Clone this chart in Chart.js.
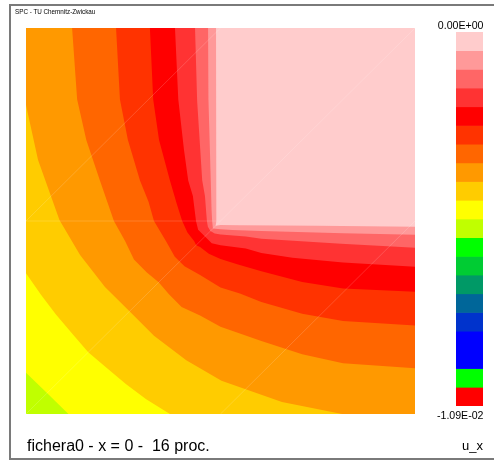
<!DOCTYPE html>
<html>
<head>
<meta charset="utf-8">
<script src="https://cdn.jsdelivr.net/npm/chart.js@4.4.1/dist/chart.umd.min.js"></script>
<style>
  html, body { margin: 0; padding: 0; background: #fff; overflow: hidden; }
  #stage { position: relative; width: 494px; height: 460px; overflow: hidden;
           font-family: "Liberation Sans", Arial, sans-serif; color: #000; }
  #frame { position: absolute; left: 9px; top: 4px; width: 520px; height: 452px;
           border: 2px solid #7a7a7a; border-right: none; }
  canvas { position: absolute; }
  #field { left: 0; top: 0; }
  #bar { left: 456px; top: 32px; }
  .t { position: absolute; white-space: pre; line-height: 1; }
</style>
</head>
<body>
<div id="stage">
  <div id="frame"></div>
  <canvas id="field" width="494" height="460"></canvas>
  <canvas id="bar" width="27" height="374"></canvas>
  <div class="t" style="left:15px; top:9px; font-size:6.3px;">SPC - TU Chemnitz-Zwickau</div>
  <div class="t" id="lblMax" style="right:10.5px; top:20px; font-size:10.6px;"></div>
  <div class="t" id="lblMin" style="right:10.5px; top:409.7px; font-size:10.6px;"></div>
  <div class="t" style="left:27px; top:437.5px; font-size:16px;">fichera0 - x = 0 -  16 proc.</div>
  <div class="t" style="right:11px; top:439px; font-size:13px;">u_x</div>
</div>
<script>
// Section x = 0 of the Fichera domain, coordinates (y, z) in [-1, 1].
const DOMAIN_MIN = -1;
const DOMAIN_MAX = 1;

// Colour scale of u_x: 20 equal intervals from 0 down to -1.09E-02.
const LEVELS = [0, -0.000545, -0.00109, -0.001635, -0.00218, -0.002725, -0.00327,
  -0.003815, -0.00436, -0.004905, -0.00545, -0.005995, -0.00654, -0.007085,
  -0.00763, -0.008175, -0.00872, -0.009265, -0.00981, -0.010355, -0.0109];
const LEVEL_COLORS = ['#FFCCCC', '#FF9999', '#FF6666', '#FF3333', '#FF0000',
  '#FF3300', '#FF6600', '#FF9900', '#FFCC00', '#FFFF00', '#C0FF00', '#00FF00',
  '#00CC33', '#009966', '#006699', '#0033CC', '#0000FF', '#0000FF', '#00FF00', '#FF0000'];

// Iso-lines between successive colour intervals.
// C1..C7 run from the top edge round the re-entrant corner to the right edge,
// C8..C10 run from the left edge to the bottom edge.
const C1 = [[-0.023, 1], [-0.022, 0.5], [-0.021, 0.1], [-0.021, 0], [-0.025, -0.025],
  [0, -0.021], [0.1, -0.022], [0.5, -0.025], [1, -0.030]];
const C2 = [[-0.064, 1], [-0.062, 0.63], [-0.05, 0.21], [-0.046, 0.06], [-0.043, 0],
  [-0.039, -0.039], [0, -0.043], [0.06, -0.046], [0.21, -0.052], [0.63, -0.064], [1, -0.071]];
const C3 = [[-0.131, 1], [-0.12, 0.62], [-0.094, 0.21], [-0.08, 0.13], [-0.07, 0],
  [-0.065, -0.03], [-0.052, -0.052], [-0.03, -0.065], [0, -0.07], [0.13, -0.08],
  [0.21, -0.092], [0.62, -0.118], [1, -0.138]];
const C4 = [[-0.234, 1], [-0.217, 0.63], [-0.188, 0.37], [-0.166, 0.21], [-0.142, 0.13],
  [-0.126, 0], [-0.115, -0.045], [-0.08, -0.08], [-0.045, -0.115], [0, -0.126],
  [0.13, -0.142], [0.21, -0.166], [0.37, -0.19], [0.63, -0.215], [1, -0.237]];
const C5 = [[-0.363, 1], [-0.346, 0.63], [-0.316, 0.42], [-0.26, 0.21], [-0.225, 0.09],
  [-0.197, 0], [-0.17, -0.06], [-0.135, -0.105], [-0.125, -0.125], [-0.105, -0.135],
  [-0.06, -0.17], [0, -0.197], [0.09, -0.225], [0.21, -0.26], [0.42, -0.316],
  [0.63, -0.35], [1, -0.366]];
const C6 = [[-0.537, 1], [-0.517, 0.63], [-0.476, 0.42], [-0.414, 0.21], [-0.37, 0.1],
  [-0.342, 0], [-0.28, -0.105], [-0.235, -0.185], [-0.21, -0.21], [-0.185, -0.235],
  [-0.105, -0.28], [0, -0.345], [0.1, -0.375], [0.21, -0.42], [0.42, -0.48],
  [0.63, -0.518], [1, -0.542]];
const C7 = [[-0.763, 1], [-0.737, 0.63], [-0.69, 0.42], [-0.62, 0.21], [-0.548, 0],
  [-0.49, -0.105], [-0.445, -0.2], [-0.38, -0.265], [-0.318, -0.318], [-0.265, -0.38],
  [-0.2, -0.445], [-0.105, -0.49], [0, -0.548], [0.21, -0.622], [0.42, -0.69],
  [0.63, -0.737], [1, -0.763]];
const C8 = [[-1, 0.601], [-0.938, 0.316], [-0.828, 0.005], [-0.722, -0.176],
  [-0.594, -0.342], [-0.468, -0.468], [-0.342, -0.594], [-0.176, -0.722],
  [0.005, -0.828], [0.316, -0.938], [0.625, -1]];
const C9 = [[-1, -0.271], [-0.923, -0.382], [-0.846, -0.485], [-0.763, -0.583],
  [-0.68, -0.68], [-0.583, -0.763], [-0.485, -0.846], [-0.382, -0.923], [-0.26, -1]];
const C10 = [[-1, -0.786], [-0.892, -0.891], [-0.782, -1]];

const CONTOURS = [C1, C2, C3, C4, C5, C6, C7, C8, C9, C10];

// Mesh element edges that show up as faint seams in the filled plot.
const MESH_SEAMS = [
  [[-1, -1], [1, 1]],
  [[-1, 0], [0, 1]],
  [[0, -1], [1, 0]],
  [[-1, 0], [0, 0]]
];

function fmtExp(v) {
  const [m, e] = v.toExponential(2).split('e');
  const n = parseInt(e, 10);
  return m + 'E' + (n < 0 ? '-' : '+') + String(Math.abs(n)).padStart(2, '0');
}
document.getElementById('lblMax').textContent = fmtExp(LEVELS[0]);
document.getElementById('lblMin').textContent = fmtExp(LEVELS[LEVELS.length - 1]);

const toPts = arr => arr.map(([x, y]) => ({ x, y }));

// Region on the low side of an iso-line, closed along the domain border.
function lowSide(c) {
  const startsOnTop = c[0][1] === DOMAIN_MAX;
  return startsOnTop
    ? [[DOMAIN_MIN, DOMAIN_MAX], ...c, [DOMAIN_MAX, DOMAIN_MIN], [DOMAIN_MIN, DOMAIN_MIN]]
    : [[DOMAIN_MIN, DOMAIN_MIN], ...c];
}

function areaSet(poly, color) {
  return {
    data: toPts(poly), showLine: true, fill: 'shape', backgroundColor: color,
    borderWidth: 0, pointRadius: 0, pointHoverRadius: 0, tension: 0
  };
}

// painter's order: full section first, then nested lower regions
const painted = [];
painted.push(areaSet([[DOMAIN_MIN, DOMAIN_MIN], [DOMAIN_MIN, DOMAIN_MAX],
  [DOMAIN_MAX, DOMAIN_MAX], [DOMAIN_MAX, DOMAIN_MIN]], LEVEL_COLORS[0]));
CONTOURS.forEach((c, i) => painted.push(areaSet(lowSide(c), LEVEL_COLORS[i + 1])));
MESH_SEAMS.forEach(s => painted.push({
  data: toPts(s), showLine: true, fill: false, borderColor: 'rgba(255,255,255,0.16)',
  borderWidth: 1, pointRadius: 0, pointHoverRadius: 0, tension: 0
}));

// Chart.js draws the first dataset on top, so hand them over reversed
new Chart(document.getElementById('field'), {
  type: 'scatter',
  data: { datasets: painted.slice().reverse() },
  options: {
    responsive: false, animation: false, devicePixelRatio: 1, events: [],
    layout: { padding: { left: 26, top: 28, right: 79, bottom: 46 } },
    plugins: { legend: { display: false }, tooltip: { enabled: false } },
    scales: {
      x: { type: 'linear', min: DOMAIN_MIN, max: DOMAIN_MAX, display: false },
      y: { type: 'linear', min: DOMAIN_MIN, max: DOMAIN_MAX, display: false }
    }
  }
});

// Colour bar: one floating bar per interval
new Chart(document.getElementById('bar'), {
  type: 'bar',
  data: {
    labels: ['u_x'],
    datasets: LEVEL_COLORS.map((c, i) => ({
      data: [[LEVELS[i + 1], LEVELS[i]]], backgroundColor: c, borderWidth: 0,
      grouped: false, barPercentage: 1, categoryPercentage: 1
    }))
  },
  options: {
    responsive: false, animation: false, devicePixelRatio: 1, events: [],
    layout: { padding: 0 },
    plugins: { legend: { display: false }, tooltip: { enabled: false } },
    scales: {
      x: { display: false },
      y: { display: false, min: LEVELS[LEVELS.length - 1], max: LEVELS[0] }
    }
  }
});
</script>
</body>
</html>
